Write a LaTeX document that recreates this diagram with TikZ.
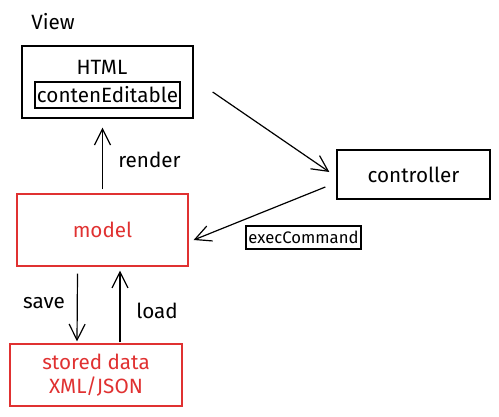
\documentclass[tikz,border=0pt]{standalone}
\usepackage{fontspec}
\setmainfont{Fira Sans}
\usetikzlibrary{arrows.meta,calc}
\definecolor{sketchred}{RGB}{224,49,49}
\tikzset{
  box/.style={draw, line width=1pt, inner sep=0pt},
  redbox/.style={box, draw=sketchred, line width=0.9pt, text=sketchred},
  lbl/.style={font=\fontsize{15.5}{18.5}\selectfont, inner sep=0pt},
  arr/.style={line width=0.9pt, -{Straight Barb[length=12pt,width=12pt]}}
}
\begin{document}
\begin{tikzpicture}[x=0.75pt,y=-0.75pt]
\useasboundingbox (0,0) rectangle (499,417);
\node[lbl] (view) at (53,22) {View};
\node[box, minimum width=128.25pt, minimum height=54pt] (html) at (107.5,82) {};
\node[lbl] (htmltxt) at (102,67) {HTML};
\node[box, lbl, minimum width=108.75pt, minimum height=19.5pt] (edit) at (107.5,95) {contenEditable};
\node[box, lbl, minimum width=114.75pt, minimum height=36.75pt] (ctrl) at (413.5,174.5) {controller};
\node[box, lbl, font=\fontsize{12.5}{15}\selectfont, minimum width=86.25pt, minimum height=17.25pt] (exec) at (303.5,237.5) {execCommand};
\node[redbox, lbl, minimum width=128.25pt, minimum height=54pt] (model) at (102.5,230) {model};
\node[redbox, lbl, align=center, minimum width=129pt, minimum height=46.5pt] (store) at (96,375) {stored data\\XML/JSON};
\node[lbl, anchor=west] (render) at (118,160) {render};
\node[lbl] (save) at (44,303) {save};
\node[lbl] (load) at (157,311) {load};
\draw[arr] ($(html.east)+(19,10)$) -- ($(ctrl.west)+(-7,-2.5)$);
\draw[arr] ($(ctrl.west)+(-11,12.5)$) -- ($(model.east)+(5,10)$);
\draw[arr] ($(model.north)+(0,-4)$) -- ($(html.south)+(-5,9)$);
\draw[arr] ($(model.south)+(-25,7)$) -- ($(store.north)+(-19,-2)$);
\draw[arr] ($(store.north)+(24,-1)$) -- ($(model.south)+(17.5,4)$);
\end{tikzpicture}
\end{document}
